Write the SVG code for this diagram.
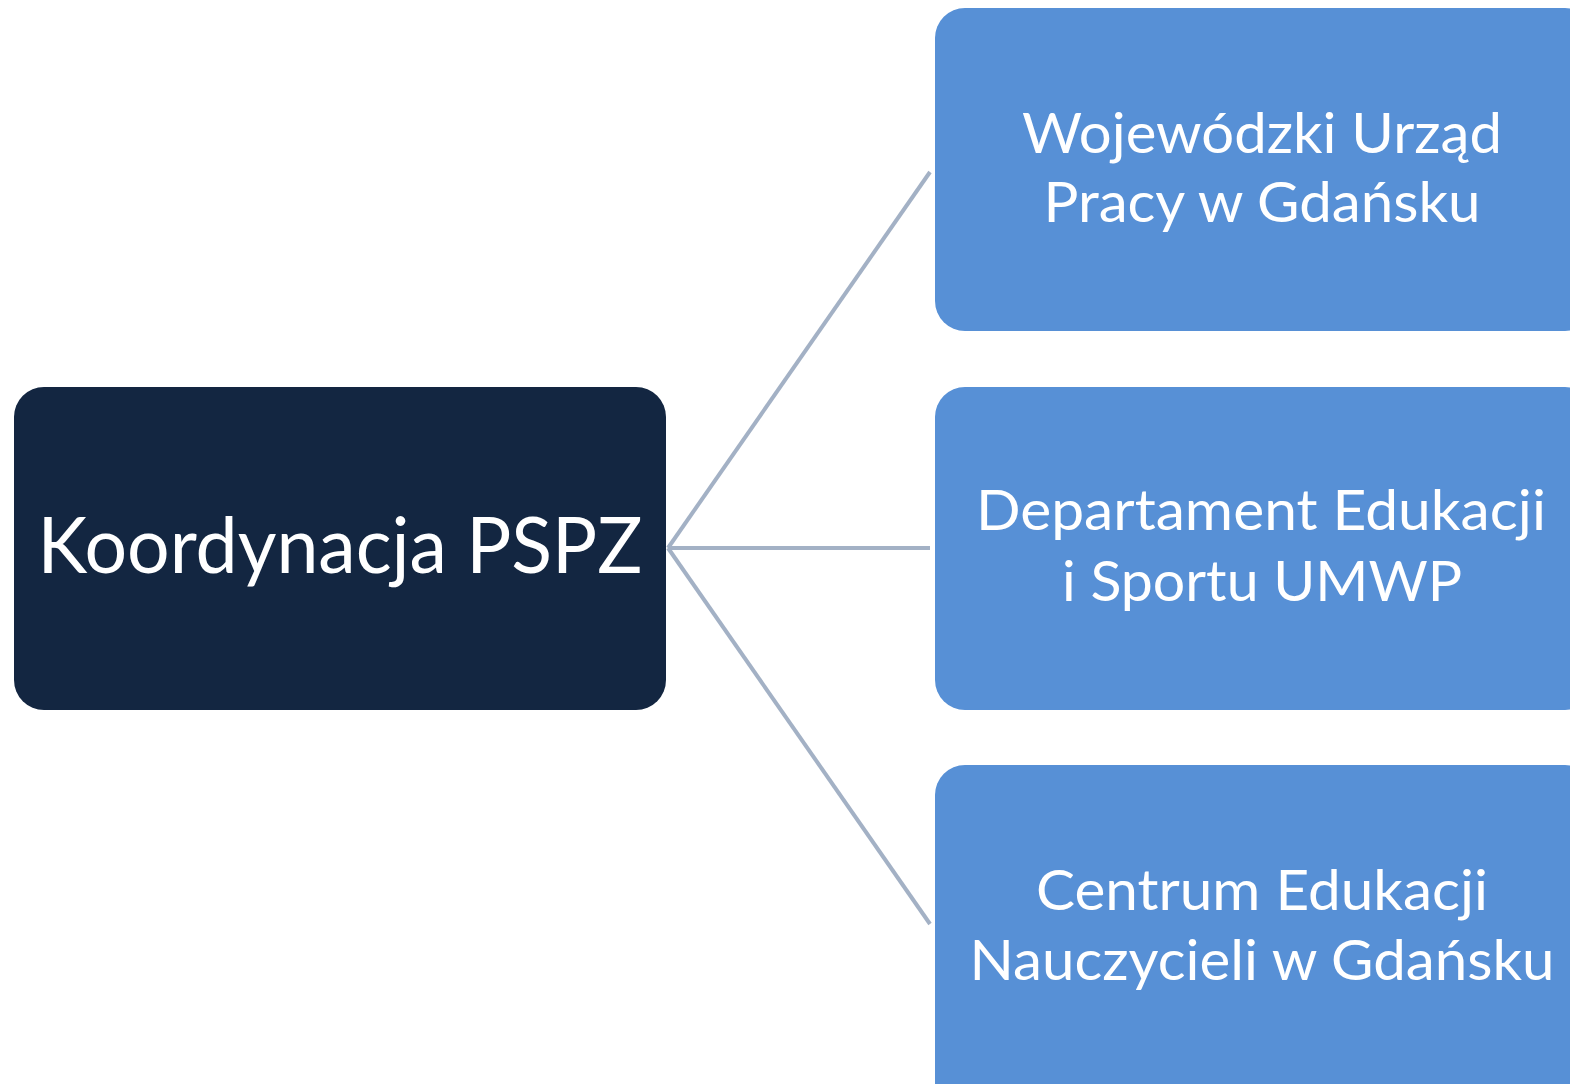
<svg xmlns="http://www.w3.org/2000/svg" width="1570" height="1084" viewBox="0 0 1570 1084">
<style>
.conn{stroke:#A3B1C5;stroke-width:4;fill:none}
.dark{fill:#132641}
.blue{fill:#5790D6}
.t{font-family:Lato,"Open Sans","Liberation Sans",sans-serif;fill:#FFFFFF;text-anchor:middle}
.big{font-size:78px}
.mid{font-size:57px}
</style>
<rect width="1570" height="1084" fill="#FFFFFF"/>
<g id="connectors">
<line class="conn" x1="668" y1="548" x2="930" y2="172"/>
<line class="conn" x1="668" y1="548" x2="930" y2="548"/>
<line class="conn" x1="668" y1="548" x2="930" y2="924"/>
</g>
<g id="node-koordynacja">
<rect class="dark" x="14" y="387" width="652" height="323" rx="30"/>
<text class="t big" x="340" y="573" textLength="605" lengthAdjust="spacingAndGlyphs">Koordynacja PSPZ</text>
</g>
<g id="node-wup">
<rect class="blue" x="935" y="8" width="660" height="323" rx="30"/>
<text class="t mid" x="1262" y="153" textLength="480" lengthAdjust="spacingAndGlyphs">Wojewódzki Urząd</text>
<text class="t mid" x="1262" y="222" textLength="437" lengthAdjust="spacingAndGlyphs">Pracy w Gdańsku</text>
</g>
<g id="node-departament">
<rect class="blue" x="935" y="387" width="660" height="323" rx="30"/>
<text class="t mid" x="1261" y="530" textLength="570" lengthAdjust="spacingAndGlyphs">Departament Edukacji</text>
<text class="t mid" x="1262" y="601" textLength="400" lengthAdjust="spacingAndGlyphs">i Sportu UMWP</text>
</g>
<g id="node-centrum">
<rect class="blue" x="935" y="765" width="660" height="360" rx="30"/>
<text class="t mid" x="1262" y="910" textLength="452" lengthAdjust="spacingAndGlyphs">Centrum Edukacji</text>
<text class="t mid" x="1262" y="980" textLength="585" lengthAdjust="spacingAndGlyphs">Nauczycieli w Gdańsku</text>
</g>
</svg>
